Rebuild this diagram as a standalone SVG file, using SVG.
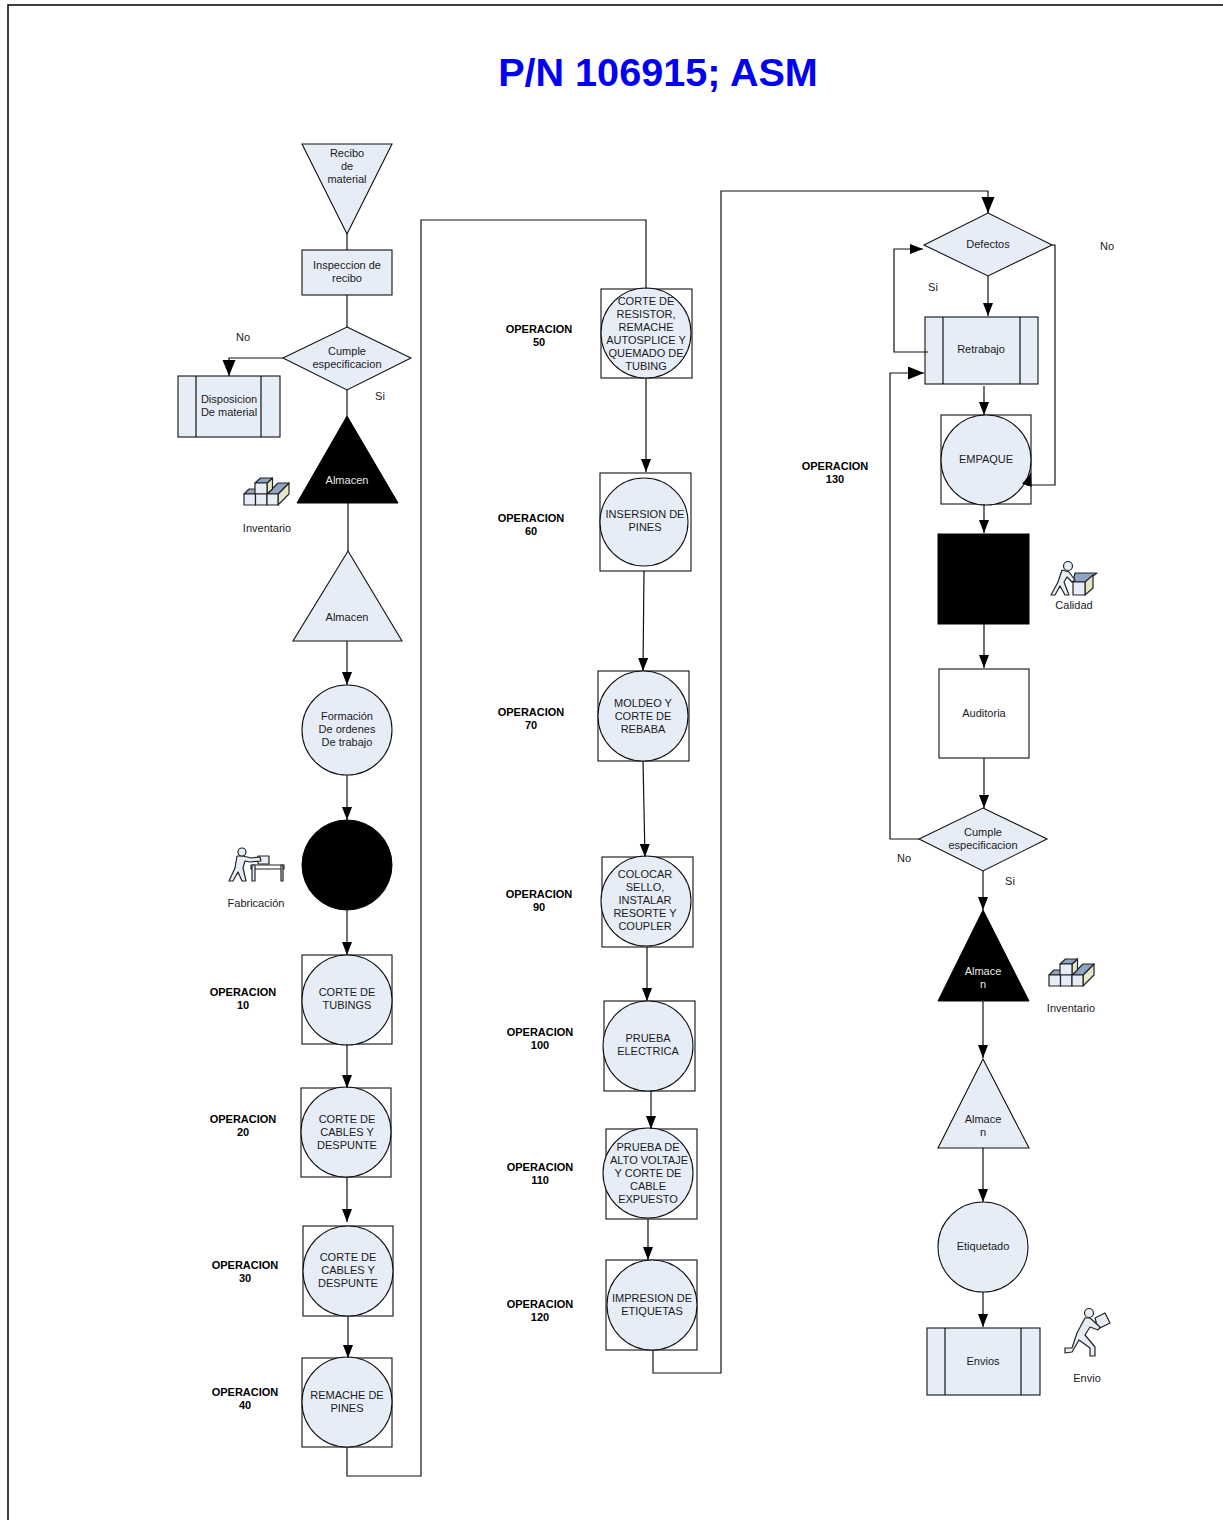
<svg xmlns="http://www.w3.org/2000/svg" width="1223" height="1520" viewBox="0 0 1223 1520">
<style>
text{font-family:"Liberation Sans",Arial,sans-serif;font-size:11px;fill:#1a1a1a;text-anchor:middle}
.b{font-weight:bold;fill:#000}
.w{fill:#e8e8e8}
.t{font-size:39.6px;font-weight:bold;fill:#0000f5}
.n{fill:#e6edf7;stroke:#111;stroke-width:1.1}
.k{fill:#000;stroke:#000;stroke-width:1}
.p{fill:#fff;stroke:#111;stroke-width:1.1}
.o{fill:none;stroke:#000;stroke-width:1.1}
#connectors path{fill:none;stroke:#111;stroke-width:1.2}
.a{marker-end:url(#ah)}
#connectors .l{marker-end:url(#ahl)}
.i{fill:#e6edf7;stroke:#222;stroke-width:1.2;stroke-linejoin:round}
.it{fill:#8fa3c4;stroke:#222;stroke-width:1.2;stroke-linejoin:round}
.is{fill:#e4e6c8;stroke:#222;stroke-width:1.2;stroke-linejoin:round}
</style>
<defs>
<marker id="ah" markerUnits="userSpaceOnUse" markerWidth="14" markerHeight="11" refX="13" refY="5" orient="auto"><path d="M0 0L13 5L0 10Z" fill="#000"/></marker>
<marker id="ahl" markerUnits="userSpaceOnUse" markerWidth="17" markerHeight="14" refX="16" refY="6.5" orient="auto"><path d="M0 0L16 6.5L0 13Z" fill="#000"/></marker>
<g id="boxes">
<path class="is" d="M35 16L46 5V16L35 27Z"/>
<path class="it" d="M24 16H35L46 5H35Z"/>
<path class="it" d="M1 16H12L17 11H6Z"/>
<path class="is" d="M24 5L29.500 0V11L24 16Z"/>
<path class="it" d="M12 5H24L29.500 0H17.500Z"/>
<rect class="i" x="12" y="5" width="12" height="11"/>
<rect class="i" x="1" y="16" width="11.500" height="11"/><rect class="i" x="12.500" y="16" width="11.500" height="11"/><rect class="i" x="24" y="16" width="11" height="11"/>
</g>
</defs>
<rect id="frame" x="8" y="5" width="1220" height="1530" fill="#fff" stroke="#000" stroke-width="1.500"/>
<text id="title" class="t" x="658" y="86">P/N 106915; ASM</text>
<g id="recibo"><path class="n" d="M302 144H392L347 234Z"/><text x="347" y="157">Recibo<tspan x="347" dy="13">de</tspan><tspan x="347" dy="13">material</tspan></text></g>
<g id="inspeccion"><rect class="n" x="302" y="250" width="90" height="45"/><text x="347" y="269">Inspeccion de<tspan x="347" dy="13">recibo</tspan></text></g>
<g id="cumple1"><path class="n" d="M347 327L411 358L347 390L283 358Z"/><text x="347" y="355">Cumple<tspan x="347" dy="13">especificacion</tspan></text></g>
<g id="disposicion"><rect class="n" x="178" y="376" width="102" height="61"/><path class="o" d="M196 376V437M261 376V437"/><text x="229" y="403">Disposicion<tspan x="229" dy="13">De material</tspan></text></g>
<g id="almacen1"><path class="k" d="M347 416L398 503H297Z"/><text class="w" x="347" y="484">Almacen</text></g>
<g id="almacen2"><path class="n" d="M348 551L402 641H293Z"/><text x="347" y="621">Almacen</text></g>
<g id="formacion"><circle class="n" cx="347" cy="730" r="45"/><text x="347" y="720">Formación<tspan x="347" dy="13">De ordenes</tspan><tspan x="347" dy="13">De trabajo</tspan></text></g>
<g id="fabricacion"><circle class="k" cx="347" cy="865" r="45"/></g>
<g id="op10"><rect class="p" x="302" y="955" width="90" height="89"/><circle class="n" cx="347" cy="1000" r="45"/><text x="347" y="996">CORTE DE<tspan x="347" dy="13">TUBINGS</tspan></text></g>
<g id="op20"><rect class="p" x="301" y="1088" width="90" height="89"/><circle class="n" cx="346" cy="1132" r="45"/><text x="347" y="1123">CORTE DE<tspan x="347" dy="13">CABLES Y</tspan><tspan x="347" dy="13">DESPUNTE</tspan></text></g>
<g id="op30"><rect class="p" x="303" y="1226" width="90" height="90"/><circle class="n" cx="348" cy="1271" r="45"/><text x="348" y="1261">CORTE DE<tspan x="348" dy="13">CABLES Y</tspan><tspan x="348" dy="13">DESPUNTE</tspan></text></g>
<g id="op40"><rect class="p" x="302" y="1358" width="90" height="89"/><circle class="n" cx="347" cy="1402" r="45"/><text x="347" y="1399">REMACHE DE<tspan x="347" dy="13">PINES</tspan></text></g>
<g id="op50"><rect class="p" x="601" y="289" width="91" height="89"/><circle class="n" cx="646" cy="333" r="45"/><text x="646" y="305">CORTE DE<tspan x="646" dy="13">RESISTOR,</tspan><tspan x="646" dy="13">REMACHE</tspan><tspan x="646" dy="13">AUTOSPLICE Y</tspan><tspan x="646" dy="13">QUEMADO DE</tspan><tspan x="646" dy="13">TUBING</tspan></text></g>
<g id="op60"><rect class="p" x="600" y="473" width="91" height="98"/><circle class="n" cx="644" cy="522" r="44"/><text x="645" y="518">INSERSION DE<tspan x="645" dy="13">PINES</tspan></text></g>
<g id="op70"><rect class="p" x="598" y="671" width="91" height="90"/><circle class="n" cx="643" cy="716" r="45"/><text x="643" y="707">MOLDEO Y<tspan x="643" dy="13">CORTE DE</tspan><tspan x="643" dy="13">REBABA</tspan></text></g>
<g id="op90"><rect class="p" x="602" y="857" width="91" height="90"/><circle class="n" cx="646" cy="901" r="45"/><text x="645" y="878">COLOCAR<tspan x="645" dy="13">SELLO,</tspan><tspan x="645" dy="13">INSTALAR</tspan><tspan x="645" dy="13">RESORTE Y</tspan><tspan x="645" dy="13">COUPLER</tspan></text></g>
<g id="op100"><rect class="p" x="604" y="1001" width="91" height="90"/><circle class="n" cx="648" cy="1046" r="45"/><text x="648" y="1042">PRUEBA<tspan x="648" dy="13">ELECTRICA</tspan></text></g>
<g id="op110"><rect class="p" x="606" y="1129" width="91" height="90"/><circle class="n" cx="648" cy="1173" r="45"/><text x="648" y="1151">PRUEBA DE<tspan x="649" dy="13">ALTO VOLTAJE</tspan><tspan x="648" dy="13">Y CORTE DE</tspan><tspan x="648" dy="13">CABLE</tspan><tspan x="648" dy="13">EXPUESTO</tspan></text></g>
<g id="op120"><rect class="p" x="606" y="1260" width="91" height="90"/><circle class="n" cx="652" cy="1305" r="45"/><text x="652" y="1302">IMPRESION DE<tspan x="652" dy="13">ETIQUETAS</tspan></text></g>
<g id="defectos"><path class="n" d="M988 213L1052 245L988 276L924 245Z"/><text x="988" y="248">Defectos</text></g>
<g id="retrabajo"><rect class="n" x="925" y="317" width="113" height="67"/><path class="o" d="M943 317V384M1020 317V384"/><text x="981" y="353">Retrabajo</text></g>
<g id="empaque"><rect class="p" x="941" y="415" width="90" height="89"/><circle class="n" cx="986" cy="460" r="45"/><text x="986" y="463">EMPAQUE</text></g>
<g id="calidad"><rect class="k" x="938" y="534" width="91" height="90"/></g>
<g id="auditoria"><rect class="p" x="939" y="669" width="90" height="89"/><text x="984" y="717">Auditoria</text></g>
<g id="cumple2"><path class="n" d="M983 808L1047 839L983 871L919 839Z"/><text x="983" y="836">Cumple<tspan x="983" dy="13">especificacion</tspan></text></g>
<g id="almacen3"><path class="k" d="M983 910L1029 1001H938Z"/><text class="w" x="983" y="975">Almace<tspan x="983" dy="13">n</tspan></text></g>
<g id="almacen4"><path class="n" d="M983 1059L1029 1148H938Z"/><text x="983" y="1123">Almace<tspan x="983" dy="13">n</tspan></text></g>
<g id="etiquetado"><circle class="n" cx="983" cy="1247" r="45"/><text x="983" y="1250">Etiquetado</text></g>
<g id="envios"><rect class="n" x="927" y="1328" width="113" height="67"/><path class="o" d="M945 1328V1395M1021 1328V1395"/><text x="983" y="1365">Envios</text></g>
<g id="connectors">
<path d="M347 234V250"/>
<path d="M347 295V327"/>
<path class="l" d="M283 358H229V376"/>
<path d="M347 390V416"/>
<path d="M348 503V551"/>
<path class="a" d="M347 641V685"/>
<path class="a" d="M347 775V820"/>
<path class="a" d="M347 910V955"/>
<path class="a" d="M347 1044V1088"/>
<path class="a" d="M347 1177V1222"/>
<path class="a" d="M348 1316V1358"/>
<path d="M347 1447V1476H421V220H646V289"/>
<path class="a" d="M646 378V472"/>
<path class="a" d="M644 571L643 671"/>
<path class="a" d="M643 761L645 857"/>
<path class="a" d="M647 947V1001"/>
<path class="a" d="M651 1091V1129"/>
<path class="a" d="M648 1219V1260"/>
<path class="l" d="M653 1350V1373H721V191H988V213"/>
<path class="a" d="M928 352H894V249H923"/>
<path class="a" d="M1052 245H1055V485H1027L1031 473"/>
<path class="a" d="M988 276V316"/>
<path class="l" d="M919 839H890V373H924"/>
<path class="a" d="M984 386V415"/>
<path class="a" d="M984 504V533"/>
<path class="a" d="M984 624V668"/>
<path class="a" d="M984 758V808"/>
<path class="a" d="M983 871V910"/>
<path class="a" d="M983 1001V1058"/>
<path class="a" d="M983 1148V1202"/>
<path class="a" d="M983 1292V1327"/>
</g>
<g id="labels">
<text x="243" y="341">No</text><text x="380" y="400">Si</text>
<text x="267" y="532">Inventario</text><text x="256" y="907">Fabricación</text>
<text x="1107" y="250">No</text><text x="933" y="291">Si</text>
<text x="1074" y="609">Calidad</text>
<text x="904" y="862">No</text><text x="1010" y="885">Si</text>
<text x="1071" y="1012">Inventario</text><text x="1087" y="1382">Envio</text>
<text class="b" x="539" y="333">OPERACION<tspan x="539" dy="13">50</tspan></text>
<text class="b" x="531" y="522">OPERACION<tspan x="531" dy="13">60</tspan></text>
<text class="b" x="531" y="716">OPERACION<tspan x="531" dy="13">70</tspan></text>
<text class="b" x="539" y="898">OPERACION<tspan x="539" dy="13">90</tspan></text>
<text class="b" x="540" y="1036">OPERACION<tspan x="540" dy="13">100</tspan></text>
<text class="b" x="540" y="1171">OPERACION<tspan x="540" dy="13">110</tspan></text>
<text class="b" x="540" y="1308">OPERACION<tspan x="540" dy="13">120</tspan></text>
<text class="b" x="835" y="470">OPERACION<tspan x="835" dy="13">130</tspan></text>
<text class="b" x="243" y="996">OPERACION<tspan x="243" dy="13">10</tspan></text>
<text class="b" x="243" y="1123">OPERACION<tspan x="243" dy="13">20</tspan></text>
<text class="b" x="245" y="1269">OPERACION<tspan x="245" dy="13">30</tspan></text>
<text class="b" x="245" y="1396">OPERACION<tspan x="245" dy="13">40</tspan></text>
</g>
<g id="icon-inventario1"><use href="#boxes" x="243" y="478"/></g>
<g id="icon-inventario2"><use href="#boxes" x="1048" y="959"/></g>
<g id="icon-fabricacion">
<rect class="i" x="258" y="856" width="11" height="8"/>
<path class="i" d="M251 865H284V869H251Z" style="fill:#fff"/><path class="i" d="M252 865H255V881H252ZM281 865H283V881H281Z"/>
<path class="i" d="M237 856L243 856L251 858L260 857L261 861L250 862L245 861L243 868L246 881L242 881L238 872L233 881L229 881L235 868Z"/>
<circle class="i" cx="242" cy="852" r="4"/>
</g>
<g id="icon-calidad">
<path class="it" d="M1075 573L1097 573L1085 582L1073 582Z"/>
<path class="is" d="M1085 582L1093 575V588L1085 595Z"/>
<rect class="i" x="1073" y="582" width="12" height="13"/>
<path class="i" d="M1062 570L1069 572L1075 580L1072 582L1067 577L1064 582L1069 595L1065 595L1060 586L1055 595L1051 595L1058 582Z"/>
<circle class="i" cx="1068" cy="566" r="4.500"/>
</g>
<g id="icon-envio">
<path class="i" d="M1095 1318L1105 1313L1110 1323L1098 1329Z"/>
<path class="i" d="M1085 1318H1090L1100 1327L1098 1330L1090 1327L1085 1335L1095 1347V1356H1090V1348L1079 1340L1072 1352L1065 1353V1348H1072L1077 1333Z"/>
<circle class="i" cx="1089" cy="1313" r="4.500"/>
</g>
</svg>
